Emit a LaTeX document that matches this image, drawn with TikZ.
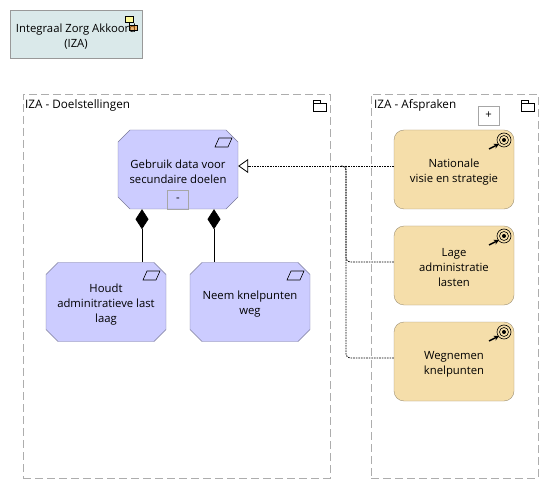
\documentclass[tikz,border=0pt]{standalone}
\usepackage{fontspec}
\setmainfont{Open Sans}
\usetikzlibrary{arrows.meta,shapes.misc}
\definecolor{gold}{HTML}{F5DEAA}
\definecolor{lilac}{HTML}{CCCCFF}
\definecolor{mint}{HTML}{DAE9EA}

\begin{document}
\begin{tikzpicture}[
                            x=1pt,
                            y=-1pt,
                            node distance=144pt,
                            font=\fontsize{11.3pt}{15pt}\selectfont,
                            boxtext/.style={align=center,inner sep=0pt,yshift=-2.5pt},
                            grouptitle/.style={anchor=west,inner sep=0pt,font=\fontsize{11.7pt}{15pt}\selectfont},
                            groupbox/.style={draw=black!32,dash pattern=on 8pt off 4pt,minimum width=#1,minimum height=384pt},
                            outcome/.style={draw=gold!60!black!90,fill=gold,rounded corners=10pt,minimum width=120pt,minimum height=79pt},
                            course/.style={draw=lilac!60!black,fill=lilac,chamfered rectangle,chamfered rectangle sep=6pt,text width=108pt,text height=44pt,text depth=23pt,inner sep=0pt},
                            toggle/.style={draw=black!35,minimum width=21pt,minimum height=19pt,inner sep=0pt},
                            dotted line/.style={line width=0.8pt,dash pattern=on 1.6pt off 1pt,rounded corners=4pt},
                            realizes/.style={dotted line,-{Triangle[open,fill=white,length=10pt,width=14pt,line width=0.8pt]}},
                            composes/.style={semithick,{Diamond[length=20pt,width=13pt]}-}
                        ]
                        \useasboundingbox (0,0) rectangle (549,489);
                        \tikzset{
                            folder/.pic={\draw[semithick] (0,0) rectangle (13,8) (0,0) -- (0,-3) -- (7,-3) -- (7,0);},
                            para/.pic={\draw[semithick] (4,0) -- (17,0) -- (13,9) -- (0,9) -- cycle;},
                            target/.pic={
                                \draw[semithick] (0,0) circle (7) (0,0) circle (4.5);
                                \fill (0,0) circle (2);
                                \draw[line width=1.4pt,-{Stealth[length=5pt,width=5pt]}] (-15,9) -- (-5,4);
                            }
                        }

                        \node[draw=black!40,fill=mint,minimum width=132pt,minimum height=48pt,label={[boxtext]center:Integraal Zorg Akkoord\\(IZA)}] (akkoord) at (76,34) {};
                        \node[groupbox=307pt] (doel) at (176.5,286) {};
                        \node[groupbox=167pt] (afspraak) at (454.5,286) {};
                        \node[grouptitle] (doeltitle) at (25,105.5) {IZA - Doelstellingen};
                        \node[grouptitle] (afspraaktitle) at (374,105.5) {IZA - Afspraken};

                        \node[course,label={[boxtext]center:Gebruik data voor\\secundaire doelen}] (gebruik) at (178,169.5) {};
                        \node[course,label={[boxtext]center:Houdt\\adminitratieve last\\laag}] (houdt) at (106,302) {};
                        \node[course,label={[boxtext]center:Neem knelpunten\\weg}] (neem) [right of=houdt] {};
                        \node[toggle] (min) at (178,199.5) {-};

                        \node[outcome,label={[boxtext]center:Nationale\\visie en strategie}] (visie) at (454,169.5) {};
                        \node[outcome,label={[boxtext]center:Lage\\administratie\\lasten}] (lasten) at (454,265.5) {};
                        \node[outcome,label={[boxtext]center:Wegnemen\\knelpunten}] (weg) at (454,361.5) {};
                        \node[toggle] (plus) at (488.5,115.5) {+};

                        \coordinate (trunk) at (346,166);

                        \draw[composes] ([xshift=-36pt]gebruik.south) -- ([xshift=36pt]houdt.north);
                        \draw[composes] ([xshift=36pt]gebruik.south) -- ([xshift=-36pt]neem.north);
                        \draw[realizes] ([yshift=3.5pt]visie.west) -- ([yshift=3.5pt]gebruik.east);
                        \draw[dotted line] ([yshift=3.5pt]lasten.west) -| (trunk);
                        \draw[dotted line] ([yshift=3.5pt]weg.west) -| (trunk) -- ++(-6,0);

                        \pic at (313,103) {folder};
                        \pic at (521,103) {folder};
                        \pic at (215,138) {para};
                        \pic at (143,271) {para};
                        \pic at (287,271) {para};
                        \pic at (504,140) {target};
                        \pic at (504,236) {target};
                        \pic at (504,332) {target};

                        \draw[fill=yellow!40] (125,16) rectangle (133,22);
                        \draw[fill=orange,fill opacity=.5] (129,25) rectangle (137,30);
                        \draw (129,22) -- (129,25);
                    \end{tikzpicture}
\end{document}
